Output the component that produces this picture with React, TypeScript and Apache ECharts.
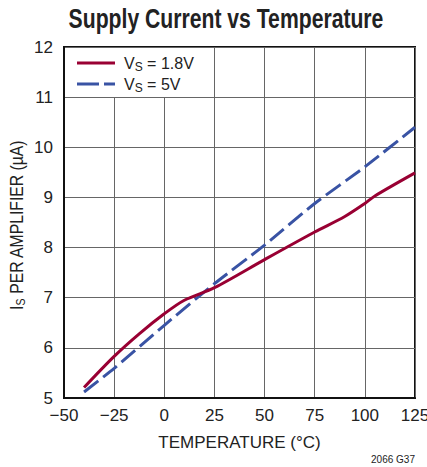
import React, { useEffect, useRef } from "react";
import * as echarts from "echarts";

const temps18 = [-40, -25, -12.5, 0, 10, 25, 50, 75, 90, 100, 105, 125];
const vals18 = [5.21, 5.83, 6.28, 6.68, 6.95, 7.2, 7.76, 8.31, 8.62, 8.88, 9.03, 9.49];
const temps5 = [-40, -25, 0, 25, 50, 75, 100, 125];
const vals5 = [5.12, 5.59, 6.45, 7.28, 8.05, 8.88, 9.61, 10.4];
const xTicks = [-50, -25, 0, 25, 50, 75, 100, 125];
const yTicks = [5, 6, 7, 8, 9, 10, 11, 12];

const RED = "#990033";
const BLUE = "#3953a4";
const FONT = "'Liberation Sans', Arial, sans-serif";
const TITLE = "Supply Current vs Temperature";
const YNAME = "I PER AMPLIFIER (µA)";

function measure(text: string, font: string): number {
  const c = document.createElement("canvas").getContext("2d")!;
  c.font = font;
  return c.measureText(text).width;
}

export default function App() {
  const ref = useRef<HTMLDivElement>(null);
  useEffect(() => {
    const chart = echarts.init(ref.current!, undefined, { renderer: "svg" });
    const titleW = measure(TITLE, "bold 28px 'Liberation Sans'");
    const titleScale = 315 / titleW;
    const yNameW = measure(YNAME, "18px 'Liberation Sans'") + measure("S", "12px 'Liberation Sans'");
    const yNameScale = 170 / yNameW;
    chart.setOption({
      animation: false,
      backgroundColor: "#fff",
      grid: {
        left: 64,
        right: 12,
        top: 47,
        bottom: 69,
        show: true,
        borderColor: "#111",
        borderWidth: 2,
        outerBoundsMode: "none",
        containLabel: false,
      },
      xAxis: {
        type: "value",
        min: xTicks[0],
        max: xTicks[xTicks.length - 1],
        interval: 25,
        axisLine: { onZero: false, lineStyle: { color: "#111", width: 2 } },
        axisTick: { show: false },
        splitLine: { lineStyle: { color: "#666", width: 1 } },
        axisLabel: {
          fontFamily: FONT,
          fontSize: 17,
          color: "#222",
          margin: 9,
          formatter: (v: number) => (v < 0 ? "\u2212" + Math.abs(v) : String(v)),
        },
        name: "TEMPERATURE (°C)",
        nameLocation: "middle",
        nameGap: 36,
        nameTextStyle: { fontFamily: FONT, fontSize: 17, color: "#222" },
      },
      yAxis: {
        type: "value",
        min: yTicks[0],
        max: yTicks[yTicks.length - 1],
        interval: 1,
        axisLine: { show: true, onZero: false, lineStyle: { color: "#111", width: 2 } },
        axisTick: { show: false },
        splitLine: { lineStyle: { color: "#666", width: 1 } },
        axisLabel: { fontFamily: FONT, fontSize: 17, color: "#222", margin: 11 },
      },
      series: [
        {
          type: "line",
          data: temps18.map((t, i) => [t, vals18[i]]),
          smooth: 0.3,
          showSymbol: false,
          lineStyle: { color: RED, width: 3 },
          z: 5,
        },
        {
          type: "line",
          data: temps5.map((t, i) => [t, vals5[i]]),
          smooth: 0.2,
          showSymbol: false,
          lineStyle: { color: BLUE, width: 3, type: [18, 6] },
          z: 4,
        },
      ],
      graphic: [
        {
          type: "text",
          x: 226,
          y: 18,
          scaleX: titleScale,
          style: {
            text: TITLE,
            align: "center",
            verticalAlign: "middle",
            fontFamily: FONT,
            fontSize: 28,
            fontWeight: "bold",
            fill: "#222",
          },
        },
        {
          type: "rect",
          shape: { x: 66, y: 48, width: 135, height: 49 },
          style: { fill: "#fff" },
          z: 10,
        },
        {
          type: "line",
          shape: { x1: 77, y1: 63, x2: 115, y2: 63 },
          style: { stroke: RED, lineWidth: 3 },
          z: 11,
        },
        {
          type: "line",
          shape: { x1: 77, y1: 84, x2: 115, y2: 84 },
          style: { stroke: BLUE, lineWidth: 3, lineDash: [22, 5] },
          z: 11,
        },
        {
          type: "text",
          x: 124,
          y: 63,
          style: {
            text: "{a|V}{s|S}{a| = 1.8V}",
            verticalAlign: "middle",
            rich: {
              a: { fontFamily: FONT, fontSize: 16, fill: "#222" },
              s: { fontFamily: FONT, fontSize: 12, fill: "#222", padding: [8, 0, 0, 0] },
            },
          },
          z: 11,
        },
        {
          type: "text",
          x: 124,
          y: 84,
          style: {
            text: "{a|V}{s|S}{a| = 5V}",
            verticalAlign: "middle",
            rich: {
              a: { fontFamily: FONT, fontSize: 16, fill: "#222" },
              s: { fontFamily: FONT, fontSize: 12, fill: "#222", padding: [8, 0, 0, 0] },
            },
          },
          z: 11,
        },
        {
          type: "text",
          x: 17,
          y: 225,
          rotation: Math.PI / 2,
          scaleX: yNameScale,
          style: {
            text: "{a|I}{s|S}{a| PER AMPLIFIER (µA)}",
            align: "center",
            verticalAlign: "middle",
            rich: {
              a: { fontFamily: FONT, fontSize: 18, fill: "#222" },
              s: { fontFamily: FONT, fontSize: 12, fill: "#222", padding: [8, 0, 0, 0] },
            },
          },
          z: 11,
        },
        {
          type: "text",
          x: 415,
          y: 464,
          style: {
            text: "2066 G37",
            align: "right",
            verticalAlign: "bottom",
            fontFamily: FONT,
            fontSize: 10,
            fill: "#222",
          },
        },
      ],
    });
    return () => chart.dispose();
  }, []);
  return <div ref={ref} style={{ width: 427, height: 467, position: "absolute", left: 0, top: 0 }} />;
}
